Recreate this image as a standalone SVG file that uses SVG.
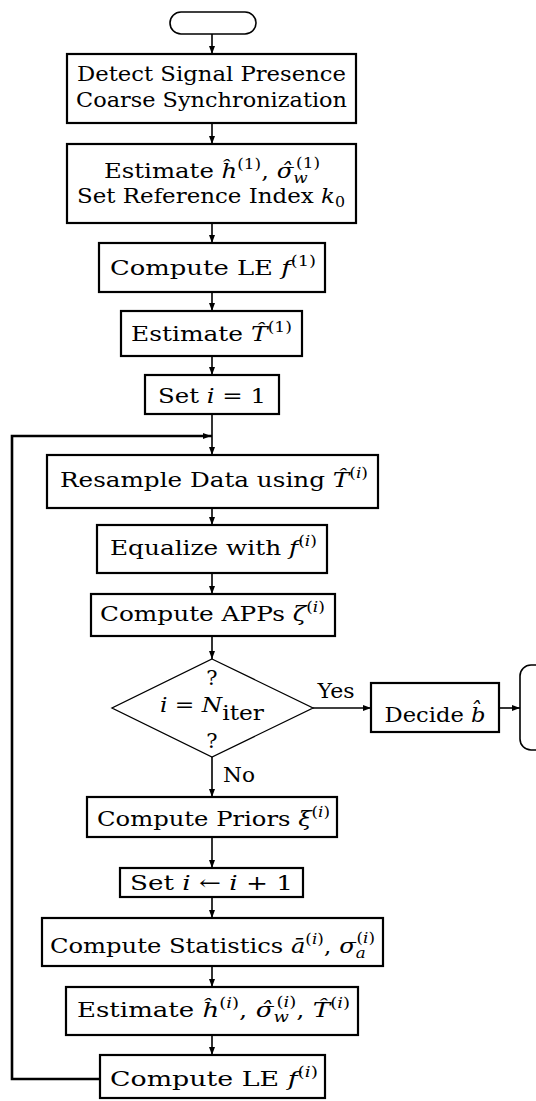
<svg xmlns="http://www.w3.org/2000/svg" width="536" height="1101" viewBox="0 0 536 1101">
  <defs>
    <marker id="arr" viewBox="0 0 8 6" refX="8" refY="3" markerWidth="8" markerHeight="6" markerUnits="userSpaceOnUse" orient="auto">
      <path d="M0,0 L8,3 L0,6 z" fill="#000"/>
    </marker>
  </defs>
  <style>
    .box { fill: #fff; stroke: #000; stroke-width: 2.2; }
    .dia { fill: #fff; stroke: #000; stroke-width: 1.3; }
    .term { fill: #fff; stroke: #000; stroke-width: 1.6; }
    .c { fill: none; stroke: #000; stroke-width: 1.6; marker-end: url(#arr); }
    .loop { fill: none; stroke: #000; stroke-width: 2.6; }
    text { font-family: "DejaVu Serif", serif; font-size: 21px; fill: #000; }
    .m { font-style: italic; }
    .s { font-size: 14.5px; }
  </style>

  <!-- connectors -->
  <g id="connectors">
    <path class="c" d="M212,34 V54"/>
    <path class="c" d="M212,123 V144"/>
    <path class="c" d="M212,223 V243"/>
    <path class="c" d="M212,292 V311"/>
    <path class="c" d="M212,356 V375"/>
    <path class="c" d="M212,414 V455"/>
    <path class="loop" d="M100,1079 H12 V436 H212"/>
    <path class="c" d="M150,436 H211" style="stroke:none"/>
    <path class="c" d="M212,508 V525"/>
    <path class="c" d="M212,573 V594"/>
    <path class="c" d="M212,636 V659"/>
    <path class="c" d="M313,708 H371"/>
    <path class="c" d="M499,708 H520"/>
    <path class="c" d="M212,757 V797"/>
    <path class="c" d="M212,837 V868"/>
    <path class="c" d="M212,897 V918"/>
    <path class="c" d="M212,966 V987"/>
    <path class="c" d="M212,1035 V1055"/>
  </g>

  <g id="start">
    <rect class="term" x="170" y="12" width="86" height="22" rx="11"/>
  </g>

  <g id="detect">
    <rect class="box" x="67" y="54" width="289" height="69"/>
    <text x="211.5" y="81" text-anchor="middle" textLength="269" lengthAdjust="spacingAndGlyphs">Detect Signal Presence</text>
    <text x="211.5" y="107" text-anchor="middle" textLength="271" lengthAdjust="spacingAndGlyphs">Coarse Synchronization</text>
  </g>

  <g id="estimate1">
    <rect class="box" x="67" y="144" width="289" height="79"/>
    <text x="212" y="178" text-anchor="middle" textLength="216" lengthAdjust="spacingAndGlyphs">Estimate <tspan class="m">ĥ</tspan><tspan class="s" dy="-9">(1)</tspan><tspan dy="9">, </tspan><tspan class="m">σ̂</tspan><tspan class="s m" dy="5">w</tspan><tspan class="s" dx="-10" dy="-15">(1)</tspan></text>
    <text x="211" y="203" text-anchor="middle" textLength="268" lengthAdjust="spacingAndGlyphs">Set Reference Index <tspan class="m">k</tspan><tspan class="s" dy="4">0</tspan></text>
  </g>

  <g id="le1">
    <rect class="box" x="99" y="243" width="226" height="49"/>
    <text x="213" y="275" text-anchor="middle" textLength="206" lengthAdjust="spacingAndGlyphs">Compute LE <tspan class="m">f</tspan><tspan class="s" dy="-9">(1)</tspan></text>
  </g>

  <g id="timing1">
    <rect class="box" x="121" y="311" width="181" height="45"/>
    <text x="211.5" y="341" text-anchor="middle" textLength="161" lengthAdjust="spacingAndGlyphs">Estimate <tspan class="m">T̂</tspan><tspan class="s" dy="-9">(1)</tspan></text>
  </g>

  <g id="init">
    <rect class="box" x="145" y="375" width="134" height="39"/>
    <text x="212" y="403" text-anchor="middle" textLength="108" lengthAdjust="spacingAndGlyphs">Set <tspan class="m">i</tspan> = 1</text>
  </g>

  <g id="resample">
    <rect class="box" x="47" y="455" width="331" height="53"/>
    <text x="214" y="487" text-anchor="middle" textLength="308" lengthAdjust="spacingAndGlyphs">Resample Data using <tspan class="m">T̂</tspan><tspan class="s" dy="-9">(</tspan><tspan class="s m">i</tspan><tspan class="s">)</tspan></text>
  </g>

  <g id="equalize">
    <rect class="box" x="97" y="525" width="230" height="48"/>
    <text x="213.5" y="555" text-anchor="middle" textLength="207" lengthAdjust="spacingAndGlyphs">Equalize with <tspan class="m">f</tspan><tspan class="s" dy="-9">(</tspan><tspan class="s m">i</tspan><tspan class="s">)</tspan></text>
  </g>

  <g id="app">
    <rect class="box" x="91" y="594" width="244" height="42"/>
    <text x="212.5" y="621" text-anchor="middle" textLength="225" lengthAdjust="spacingAndGlyphs">Compute APPs <tspan class="m">ζ</tspan><tspan class="s" dy="-9">(</tspan><tspan class="s m">i</tspan><tspan class="s">)</tspan></text>
  </g>

  <g id="check">
    <polygon class="dia" points="212,659 313,708 212,757 112,708"/>
    <text x="212" y="685" text-anchor="middle">?</text>
    <text x="212" y="712" text-anchor="middle" textLength="104" lengthAdjust="spacingAndGlyphs"><tspan class="m">i</tspan> = <tspan class="m">N</tspan><tspan dy="8">iter</tspan></text>
    <text x="212" y="748" text-anchor="middle">?</text>
    <text x="336" y="698" text-anchor="middle" textLength="37" lengthAdjust="spacingAndGlyphs">Yes</text>
    <text x="239" y="782" text-anchor="middle" textLength="32" lengthAdjust="spacingAndGlyphs">No</text>
  </g>

  <g id="decide">
    <rect class="box" x="371" y="683" width="128" height="49"/>
    <text x="435" y="722" text-anchor="middle" textLength="101" lengthAdjust="spacingAndGlyphs">Decide <tspan class="m">b̂</tspan></text>
  </g>

  <g id="stop">
    <rect class="term" x="520" y="665" width="44" height="85" rx="11"/>
  </g>

  <g id="priors">
    <rect class="box" x="87" y="797" width="250" height="40"/>
    <text x="213.5" y="826" text-anchor="middle" textLength="233" lengthAdjust="spacingAndGlyphs">Compute Priors <tspan class="m">ξ</tspan><tspan class="s" dy="-9">(</tspan><tspan class="s m">i</tspan><tspan class="s">)</tspan></text>
  </g>

  <g id="increment">
    <rect class="box" x="120" y="868" width="183" height="29"/>
    <text x="211.5" y="890" text-anchor="middle" textLength="163" lengthAdjust="spacingAndGlyphs">Set <tspan class="m">i</tspan> ← <tspan class="m">i</tspan> + 1</text>
  </g>

  <g id="stats">
    <rect class="box" x="42" y="918" width="341" height="48"/>
    <text x="212.5" y="953" text-anchor="middle" textLength="325" lengthAdjust="spacingAndGlyphs">Compute Statistics <tspan class="m">ā</tspan><tspan class="s" dy="-9">(</tspan><tspan class="s m">i</tspan><tspan class="s">)</tspan><tspan dy="9">, </tspan><tspan class="m">σ</tspan><tspan class="s m" dy="5">a</tspan><tspan class="s" dx="-8" dy="-15">(</tspan><tspan class="s m">i</tspan><tspan class="s">)</tspan></text>
  </g>

  <g id="estimate-i">
    <rect class="box" x="66" y="987" width="292" height="48"/>
    <text x="213.5" y="1017" text-anchor="middle" textLength="273" lengthAdjust="spacingAndGlyphs">Estimate <tspan class="m">ĥ</tspan><tspan class="s" dy="-9">(</tspan><tspan class="s m">i</tspan><tspan class="s">)</tspan><tspan dy="9">, </tspan><tspan class="m">σ̂</tspan><tspan class="s m" dy="5">w</tspan><tspan class="s" dx="-10" dy="-15">(</tspan><tspan class="s m">i</tspan><tspan class="s">)</tspan><tspan dy="10">, </tspan><tspan class="m">T̂</tspan><tspan class="s" dy="-9">(</tspan><tspan class="s m">i</tspan><tspan class="s">)</tspan></text>
  </g>

  <g id="le-i">
    <rect class="box" x="100" y="1055" width="225" height="43"/>
    <text x="214" y="1086" text-anchor="middle" textLength="208" lengthAdjust="spacingAndGlyphs">Compute LE <tspan class="m">f</tspan><tspan class="s" dy="-9">(</tspan><tspan class="s m">i</tspan><tspan class="s">)</tspan></text>
  </g>
</svg>
